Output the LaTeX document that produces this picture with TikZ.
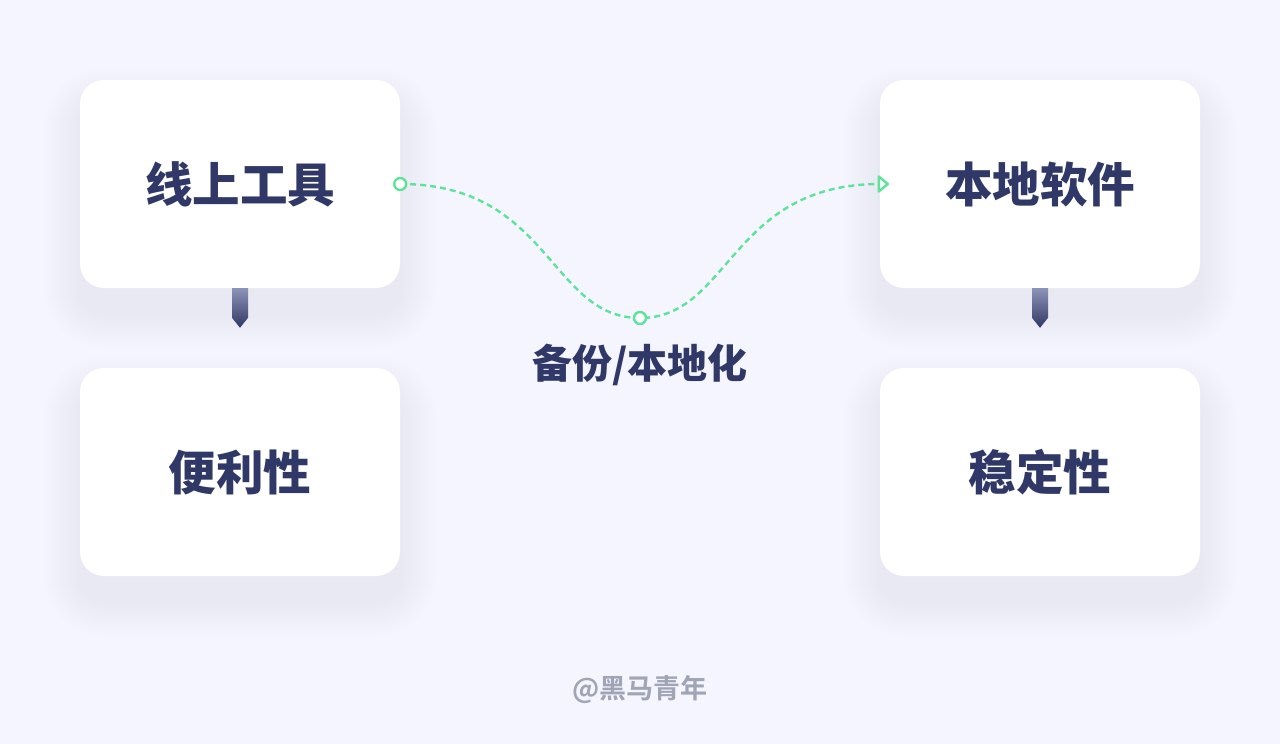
\documentclass[tikz,border=0pt]{standalone}
\usepackage{fontspec}
\usepackage{tikz}
\usetikzlibrary{calc}
\usetikzlibrary{arrows.meta}
\newfontfamily\cjk{Noto Sans CJK SC}[BoldFont={Noto Sans CJK SC Black}]
\newfontfamily\cjkmark{Noto Sans CJK SC Bold}
\definecolor{bgc}{HTML}{F4F5FE}
\definecolor{navy}{HTML}{2F3866}
\definecolor{navylight}{HTML}{8E94B8}
\definecolor{mint}{HTML}{5EE39A}
\definecolor{shadowc}{HTML}{C4C8F0}
\definecolor{marky}{HTML}{A0A4B6}

\tikzset{
  card/.style={fill=white, rounded corners=24pt, minimum width=320pt, minimum height=208pt,
    inner sep=0pt, text=navy, font=\cjk\bfseries\fontsize{47.5}{47.5}\selectfont},
  flow/.style={mint, line width=2.4pt, dash pattern=on 6pt off 4pt},
  knot/.style={circle, draw=mint, fill=white, line width=2.4pt, minimum size=12pt, inner sep=0pt},
  tip/.style={mint, line width=2.4pt, line join=round, line cap=round}
}
% soft shadow under a card
\newcommand{\cardshade}[1]{%
  \foreach \r in {3,6,...,36} {
    \fill[shadowc, opacity=0.016, rounded corners=24pt+\r pt]
      ($(#1)+(-160-\r,-104-\r+24)$) rectangle ($(#1)+(160+\r,104+\r+24)$);
  }
}
% gradient pointer between two cards
\newcommand{\pointer}[2]{%
  \shade[top color=navylight, bottom color=navy]
    ($(#1.south)+(-8,0)$) -- ($(#1.south)+(8,0)$) -- ($(#2.north)+(8,-50)$)
    -- ($(#2.north)+(0,-40)$) -- ($(#2.north)+(-8,-50)$) -- cycle;
}

\begin{document}
\begin{tikzpicture}[x=1pt, y=-1pt]
\fill[bgc] (0,0) rectangle (1280,744);
\useasboundingbox (0,0) rectangle (1280,744);

% card centres
\coordinate (cOnline) at (240,184);
\coordinate (cConv) at (240,472);
\coordinate (cLocal) at (1040,184);
\coordinate (cStable) at (1040,472);

\cardshade{cOnline}
\cardshade{cConv}
\cardshade{cLocal}
\cardshade{cStable}

% cards
\node[card] (online) at (cOnline) {线上工具};
\node[card] (conv) at (cConv) {便利性};
\node[card] (local) at (cLocal) {本地软件};
\node[card] (stable) at (cStable) {稳定性};

% pointers
\pointer{online}{conv}
\pointer{local}{stable}

% backup curve
\coordinate (dip) at (640,318);
\coordinate (tipend) at ($(local.west)+(8,0)$);
\draw[flow]
  (online.east) .. controls +(150,0) and +(-90,0) .. (dip)
  .. controls +(90,0) and +(-150,0) .. ($(tipend)+(-8,0)$);
\draw[tip] ($(tipend)+(-9,-7.5)$) -- (tipend) -- ($(tipend)+(-9,7.5)$) -- cycle;
\node[knot] (startknot) at (online.east) {};
\node[knot] (dipknot) at (dip) {};
\node[text=navy, font=\cjk\bfseries\fontsize{40}{40}\selectfont] (backup) at (640,365) {备份/本地化};

% watermark
\node[text=marky, font=\cjkmark\fontsize{27}{27}\selectfont] (mark) at (640,690) {@黑马青年};
\end{tikzpicture}
\end{document}
